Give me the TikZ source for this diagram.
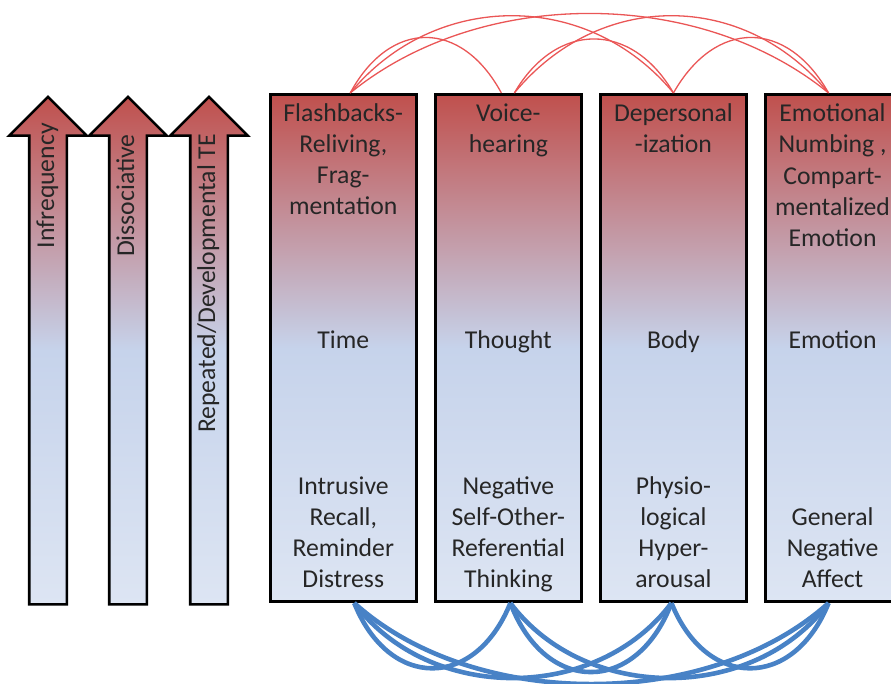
\documentclass[tikz,border=0pt]{standalone}
\usepackage{fontspec}
\setmainfont{Carlito}
\usepackage{xcolor}
\usepackage{tikz}
\usetikzlibrary{chains,positioning,shapes.arrows}

\definecolor{boxred}{RGB}{192,80,77}
\definecolor{boxblue}{RGB}{198,211,235}
\definecolor{boxpale}{RGB}{221,229,243}
\definecolor{linkred}{RGB}{234,86,86}
\definecolor{linkblue}{RGB}{72,130,198}
\definecolor{labelgray}{RGB}{38,38,38}

\begin{document}
\begin{tikzpicture}[x=1pt,y=-1pt]
\clip (0,0) rectangle (891,683);

\edef\boxwidth{146pt}
\edef\boxheight{507.5pt}
\tikzstyle{symbox}=[draw,line width=2.6pt,minimum width=\boxwidth,minimum height=\boxheight,inner sep=0pt,
    top color=boxred,bottom color=boxpale,middle color=boxblue]
\tikzstyle{scalearrow}=[single arrow,draw,line width=2.6pt,rotate=90,minimum height=\boxheight,
    inner sep=0pt,inner ysep=17.5pt,single arrow head extend=20pt,single arrow tip angle=90,
    top color=boxred,bottom color=boxpale,middle color=boxblue]
\tikzstyle{symtext}=[align=center,inner sep=0pt,text=labelgray,font=\fontsize{25.7}{31}\selectfont,
    execute at begin node=\strut,execute at end node=\strut]
\tikzstyle{redlink}=[draw=linkred,line width=1.3pt]
\tikzstyle{bluelink}=[draw=linkblue,line width=4.6pt]

%% Scale arrows
\node [scalearrow,anchor=tip] (infreq) at (48,95) {};
\node [scalearrow,anchor=tip] (dissoc) at (128,95) {};
\node [scalearrow,anchor=tip] (repdev) at (209,95) {};
\node [symtext,rotate=90,anchor=east] (infreqtext) at ([yshift=-28pt]infreq.tip) {Infrequency};
\node [symtext,rotate=90,anchor=east] (dissoctext) at ([yshift=-39pt]dissoc.tip) {Dissociative};
\node [symtext,rotate=90,anchor=east] (repdevtext) at ([yshift=-39pt]repdev.tip) {Repeated/Developmental TE};

%% Symptom boxes
\begin{scope}[start chain=1 going right,node distance=16.5pt]
    \node [on chain=1,symbox] (flash) at (343.25,348) {};
    \node [on chain=1,symbox] (voice) {};
    \node [on chain=1,symbox] (deper) {};
    \node [on chain=1,symbox] (numb) {};
\end{scope}

\node [symtext,anchor=north] (flashtop) at ([yshift=-11pt]flash.north) {Flashbacks-\\Reliving,\\Frag-\\mentation};
\node [symtext] (flashmid) at ([yshift=6pt]flash.center) {Time};
\node [symtext,anchor=south] (flashbot) at ([yshift=6pt]flash.south) {Intrusive\\Recall,\\Reminder\\Distress};

\node [symtext,anchor=north] (voicetop) at ([yshift=-11pt]voice.north) {Voice-\\hearing};
\node [symtext] (voicemid) at ([yshift=6pt]voice.center) {Thought};
\node [symtext,anchor=south] (voicebot) at ([yshift=6pt]voice.south) {Negative\\Self-Other-\\Referential\\Thinking};

\node [symtext,anchor=north] (depertop) at ([yshift=-11pt]deper.north) {Depersonal\\-ization};
\node [symtext] (depermid) at ([yshift=6pt]deper.center) {Body};
\node [symtext,anchor=south] (deperbot) at ([yshift=6pt]deper.south) {Physio-\\logical\\Hyper-\\arousal};

\node [symtext,anchor=north] (numbtop) at ([xshift=-6pt,yshift=-11pt]numb.north) {Emotional\\Numbing ,\\Compart-\\mentalized\\Emotion};
\node [symtext] (numbmid) at ([xshift=-6pt,yshift=6pt]numb.center) {Emotion};
\node [symtext,anchor=south] (numbbot) at ([xshift=-6pt,yshift=6pt]numb.south) {General\\Negative\\Affect};

%% Links over the top
\coordinate (flashup) at ([xshift=7pt]flash.north);
\coordinate (voiceupl) at ([xshift=-7pt]voice.north);
\coordinate (voiceupr) at ([xshift=6pt]voice.north);
\coordinate (deperup) at (deper.north);
\coordinate (numbup) at ([xshift=-10pt]numb.north);

\draw [redlink] (flashup) .. controls +(40,-74) and +(-40,-74) .. (voiceupl);
\draw [redlink] (flashup) .. controls +(85,-103) and +(-85,-103) .. (deperup);
\draw [redlink] (flashup) .. controls +(130,-106) and +(-130,-106) .. (numbup);
\draw [redlink] (voiceupr) .. controls +(42,-72) and +(-42,-72) .. (deperup);
\draw [redlink] (voiceupr) .. controls +(85,-103) and +(-85,-103) .. (numbup);
\draw [redlink] (deperup) .. controls +(42,-74) and +(-42,-74) .. (numbup);

%% Links underneath
\coordinate (flashdown) at ([xshift=11pt]flash.south);
\coordinate (voicedown) at ([xshift=2pt]voice.south);
\coordinate (deperdown) at ([xshift=-2pt]deper.south);
\coordinate (numbdown) at ([xshift=-10pt]numb.south);

\draw [bluelink] (flashdown) .. controls +(35,87) and +(-35,87) .. (voicedown);
\draw [bluelink] (flashdown) .. controls +(75,100) and +(-75,100) .. (deperdown);
\draw [bluelink] (flashdown) .. controls +(120,108) and +(-120,108) .. (numbdown);
\draw [bluelink] (voicedown) .. controls +(35,92) and +(-35,92) .. (deperdown);
\draw [bluelink] (voicedown) .. controls +(75,100) and +(-75,100) .. (numbdown);
\draw [bluelink] (deperdown) .. controls +(35,87) and +(-35,87) .. (numbdown);

\end{tikzpicture}
\end{document}
